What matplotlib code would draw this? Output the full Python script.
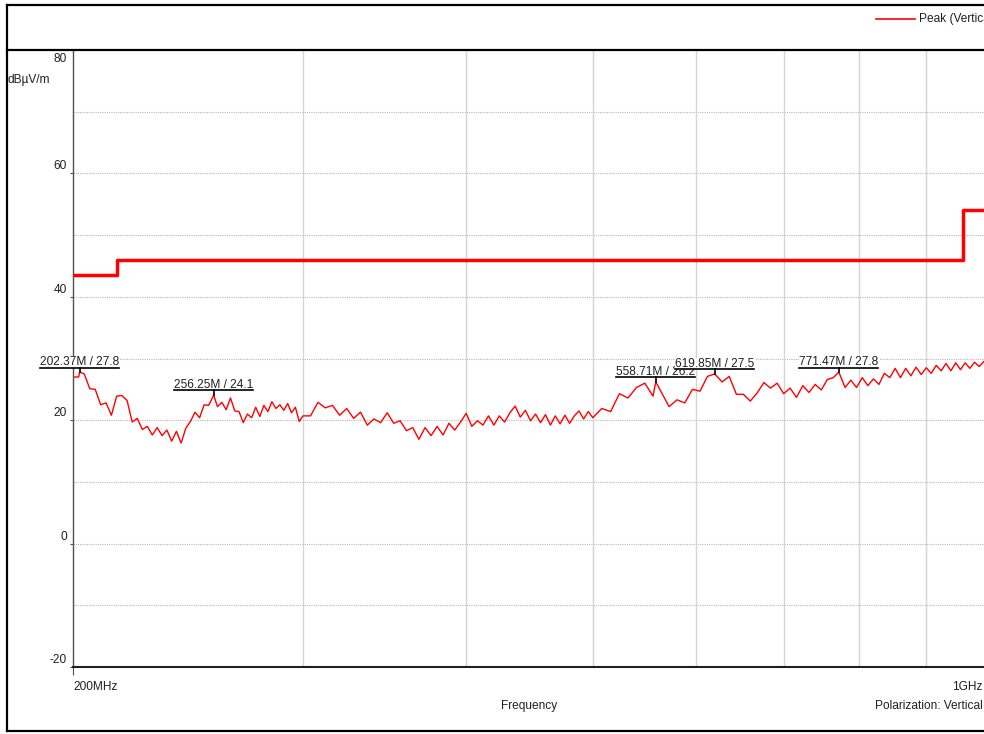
import matplotlib
matplotlib.use('Agg')
import matplotlib.pyplot as plt
from matplotlib.lines import Line2D
from matplotlib.ticker import NullLocator
from matplotlib.transforms import IdentityTransform

# measured trace, MHz / dBuV/m
trace_freq = [200, 202, 202.37, 204, 206, 208, 210, 212, 214, 216, 218, 220, 222, 224, 226, 228,
              230, 232, 234, 236, 238, 240, 242, 244, 246, 248, 250, 252, 254, 256, 256.25, 258,
              260, 262, 264, 266, 268, 270, 272, 274, 276, 278, 280, 282, 284, 286, 288, 290,
              292, 294, 296, 298, 300,
              304, 308, 312, 316, 320, 324, 328, 332, 336, 340, 344, 348, 352, 356, 360, 364,
              368, 372, 376, 380, 384, 388, 392, 396, 400, 404, 408, 412, 416, 420, 424, 428,
              432, 436, 440, 444, 448, 452, 456, 460, 464, 468, 472, 476, 480, 484, 488, 492,
              496, 500,
              508, 516, 524, 532, 540, 548, 556, 558.71, 564, 572, 580, 588, 596, 604, 612,
              619.85, 628, 636, 644, 652, 660, 668, 676, 684, 692, 700, 708, 716, 724, 732,
              740, 748, 756, 764, 771.47, 780, 788, 796, 804, 812, 820, 828, 836, 844, 852,
              860, 868, 876, 884, 892, 900, 908, 916, 924, 932, 940, 948, 956, 964, 972, 980,
              988, 996, 1000]
trace_level = [27.0, 27.0, 27.8, 27.5, 25.1, 25.0, 22.5, 22.8, 20.8, 23.9, 24.0, 23.2, 19.7, 20.3, 18.5, 19.0,
               17.6, 18.8, 17.5, 18.4, 16.6, 18.2, 16.3, 18.7, 19.8, 21.3, 20.4, 22.5, 22.4, 23.8, 24.1, 22.2,
               22.9, 21.7, 23.6, 21.5, 21.4, 19.6, 21.0, 20.4, 22.1, 20.6, 22.4, 21.4, 23.0, 21.9, 22.5, 21.6,
               22.7, 21.2, 22.1, 19.8, 20.7,
               20.7, 22.9, 22.0, 22.4, 20.8, 21.9, 20.3, 21.3, 19.2, 20.2, 19.6, 21.2, 19.5, 19.9, 18.3, 18.8,
               16.9, 18.8, 17.5, 19.0, 17.6, 19.5, 18.4, 19.7, 21.1, 19.0, 19.9, 19.2, 20.7, 19.2, 20.7, 19.7,
               21.2, 22.3, 20.5, 21.6, 19.9, 21.0, 19.6, 20.9, 19.2, 20.7, 19.4, 20.8, 19.5, 20.7, 21.5, 20.2,
               21.4, 20.4,
               21.9, 21.4, 24.3, 23.6, 25.3, 26.0, 23.9, 26.2, 24.6, 22.2, 23.3, 22.8, 25.0, 24.7, 27.1,
               27.5, 26.2, 27.1, 24.2, 24.2, 23.1, 24.4, 26.1, 25.2, 26.0, 24.3, 25.2, 23.7, 25.6, 24.5,
               25.8, 24.9, 26.6, 26.9, 27.8, 25.3, 26.5, 25.3, 26.9, 25.6, 26.7, 25.8, 27.6, 26.9, 28.4,
               26.9, 28.4, 27.2, 28.6, 27.4, 28.5, 27.6, 28.9, 28.0, 29.2, 28.0, 29.3, 28.2, 29.3, 28.4, 29.4,
               28.7, 29.5, 29.2]

# limit line
limit_freq = [200, 216, 960, 1000]
limit_level = [43.5, 46, 54, 54]

# peak markers
marker_freq = [202.37, 256.25, 558.71, 619.85, 771.47]
marker_level = [27.8, 24.1, 26.2, 27.5, 27.8]

y_labels = [80, 60, 40, 20, 0, -20]
h_grid = [70, 60, 50, 40, 30, 20, 10, 0, -10]
v_grid = [300, 400, 500, 600, 700, 800, 900]

plt.rcParams['font.family'] = ['Liberation Sans', 'DejaVu Sans']
plt.rcParams['font.size'] = 8.6

W, H = 984, 734
fig = plt.figure(figsize=(W / 100, H / 100), dpi=100)
ax = fig.add_axes([73 / W, (H - 667) / H, 913 / W, 617 / H])
ax.set_xscale('log')
ax.set_xlim(200, 1000)
ax.set_ylim(-20, 80)

for v in h_grid:
    ax.axhline(v, color='#b8b8b8', lw=0.8, ls=(0, (1, 1)), zorder=1)
for f in v_grid:
    ax.axvline(f, color='#d4d4d4', lw=1.0, zorder=1)

ax.plot(limit_freq, limit_level, drawstyle='steps-post', color='#ff0000', lw=2.5, zorder=3)
ax.plot(trace_freq, trace_level, color='#ff0000', lw=1.0, zorder=3)

for s in ['top', 'right']:
    ax.spines[s].set_visible(False)
ax.spines['left'].set_color('#505050')
ax.spines['left'].set_linewidth(1.0)
ax.spines['bottom'].set_color('#202020')
ax.spines['bottom'].set_linewidth(1.5)

ax.xaxis.set_minor_locator(NullLocator())
ax.set_xticks([200])
ax.set_xticklabels([''])
ax.tick_params(axis='x', length=5.5, color='#505050', direction='out')
ax.set_yticks(y_labels)
ax.set_yticklabels([''] * len(y_labels))
ax.tick_params(axis='y', length=2.5, color='#505050', direction='out')

for v in y_labels:
    if v == 80:
        ax.annotate(str(v), xy=(0, v), xycoords=('axes fraction', 'data'), xytext=(-6, -3),
                    textcoords='offset pixels', ha='right', va='top', color='#202020')
    else:
        ax.annotate(str(v), xy=(0, v), xycoords=('axes fraction', 'data'), xytext=(-6, 1),
                    textcoords='offset pixels', ha='right', va='bottom', color='#202020')


def px(x, y):
    return x, H - y


def fig_line(xs, ys, **kw):
    pts = [px(x, y) for x, y in zip(xs, ys)]
    fig.add_artist(Line2D([p[0] for p in pts], [p[1] for p in pts],
                          transform=IdentityTransform(), **kw))


def fig_text(x, y, s, **kw):
    fig.text(*px(x, y), s, transform=IdentityTransform(), **kw)


# frame
fig_line([7, 7], [5, 731], color='black', lw=1.6)
fig_line([7, 990], [5, 5], color='black', lw=1.6)
fig_line([7, 990], [731, 731], color='black', lw=1.6)
fig_line([7, 990], [50, 50], color='black', lw=1.6)

# legend (runs off the right edge, as in the source)
fig_line([876, 915], [19, 19], color='#ff0000', lw=1.2)
fig_text(919, 19, 'Peak (Vertical)', ha='left', va='center', color='#202020')

fig_text(8, 80, 'dBµV/m', ha='left', va='center', color='#202020')
fig_text(73, 687, '200MHz', ha='left', va='center', color='#202020')
fig_text(983, 687, '1GHz', ha='right', va='center', color='#202020')
fig_text(529, 706, 'Frequency', ha='center', va='center', color='#202020')
fig_text(983, 706, 'Polarization: Vertical', ha='right', va='center', color='#202020')

fig.canvas.draw()
renderer = fig.canvas.get_renderer()
for f, v in zip(marker_freq, marker_level):
    mx, my = ax.transData.transform((f, v))
    t = fig.text(mx, my + 7, f'{f:.2f}M / {v:.1f}', transform=IdentityTransform(),
                 ha='center', va='baseline', color='#202020', zorder=5,
                 bbox=dict(facecolor='white', edgecolor='none', pad=0.2))
    bb = t.get_window_extent(renderer)
    fig.add_artist(Line2D([bb.x0, bb.x1], [my + 4.5, my + 4.5], transform=IdentityTransform(),
                          color='black', lw=1.2, zorder=6))
    fig.add_artist(Line2D([mx, mx], [my + 4.5, my], transform=IdentityTransform(),
                          color='black', lw=1.2, zorder=6))

fig.savefig('out.png', dpi=100, facecolor='white')
